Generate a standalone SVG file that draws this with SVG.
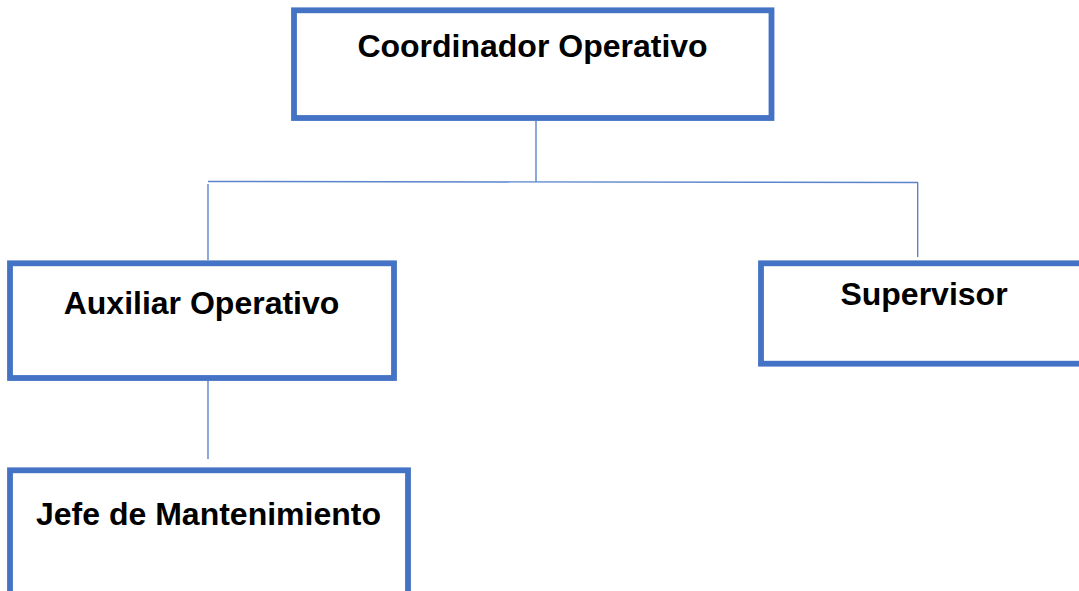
<svg xmlns="http://www.w3.org/2000/svg" width="1079" height="591" viewBox="0 0 1079 591">
<style>
.box{fill:#ffffff;stroke:#4472C4;stroke-width:5.8}
.lbl{font-family:"Liberation Sans",Arial,sans-serif;font-weight:bold;font-size:32px;fill:#000000;text-anchor:middle}
.con{stroke:#5b84cc;stroke-width:1.4;fill:none}
</style>
<rect width="1079" height="591" fill="#ffffff"/>
<g id="connectors">
<line class="con" x1="536" y1="121" x2="536" y2="181.8"/>
<line class="con" x1="208" y1="181.5" x2="918" y2="182.5"/>
<line class="con" x1="208" y1="184" x2="208" y2="260"/>
<line class="con" x1="917.7" y1="182.5" x2="917.7" y2="257"/>
<line class="con" x1="208" y1="372" x2="208" y2="459"/>
</g>
<g id="coordinador">
<rect class="box" x="294" y="10.3" width="477.5" height="107.7"/>
<text class="lbl" x="532.5" y="57">Coordinador Operativo</text>
</g>
<g id="auxiliar">
<rect class="box" x="10" y="263.3" width="384" height="114.7"/>
<text class="lbl" x="201.5" y="314">Auxiliar Operativo</text>
</g>
<g id="supervisor">
<rect class="box" x="761" y="263.3" width="326" height="100.4"/>
<text class="lbl" x="924" y="305">Supervisor</text>
</g>
<g id="jefe">
<rect class="box" x="10" y="470.3" width="398" height="140"/>
<text class="lbl" x="208.5" y="525">Jefe de Mantenimiento</text>
</g>
</svg>
